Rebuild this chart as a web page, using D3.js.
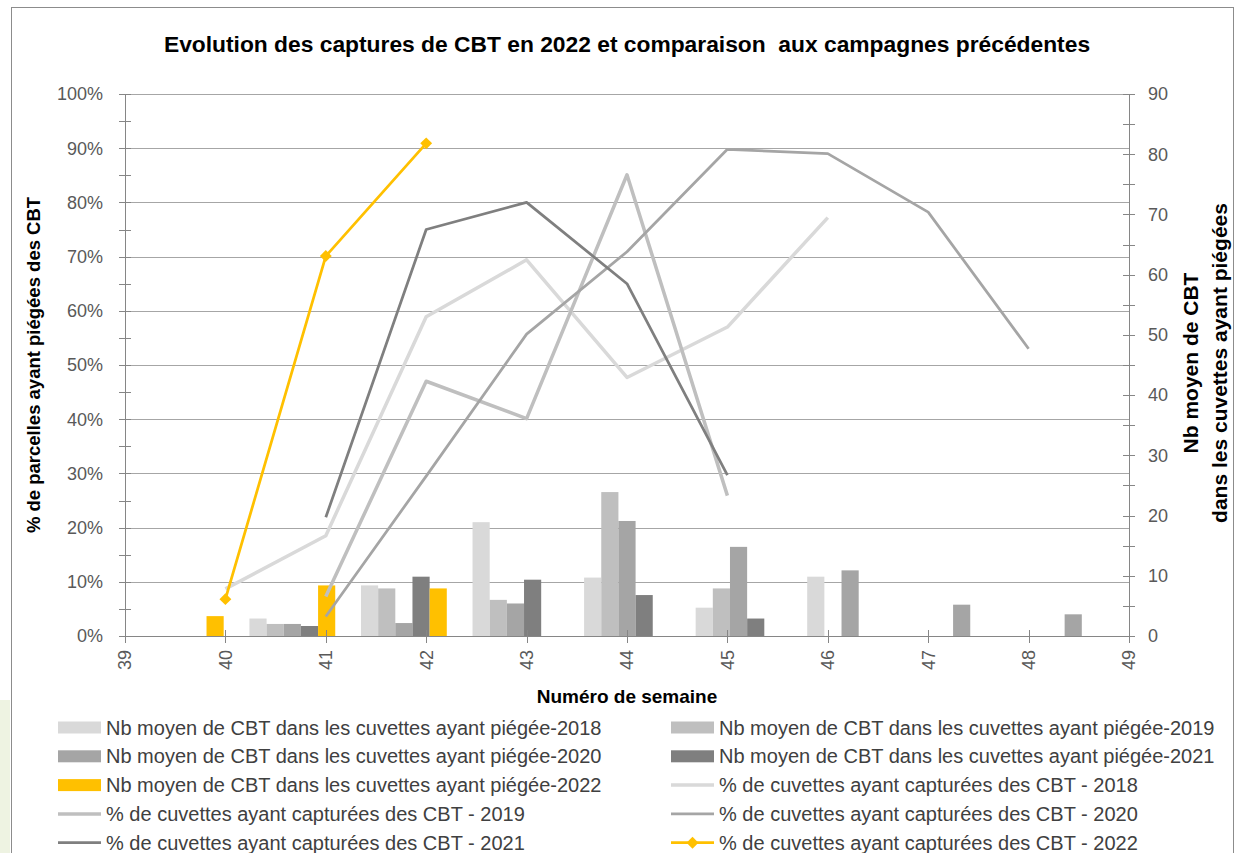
<!DOCTYPE html>
<html><head><meta charset="utf-8">
<script src="https://cdn.jsdelivr.net/npm/d3@7"></script>
<style>
html,body{margin:0;padding:0;background:#fff;}
svg{display:block;font-family:"Liberation Sans",Arial,sans-serif;}
</style></head>
<body><svg id="c" width="1241" height="853"></svg>
<script>
// ---------- data ----------
const years = ["2018","2019","2020","2021","2022"];
const barWeeks = [40,41,42,43,44,45,46,47,48];
const bar2018 = [0, 2.9, 8.4, 18.9, 9.7, 4.7, 9.85, 0, 0];
const bar2019 = [0, 2.0, 7.9, 6.0, 23.9, 7.9, 0, 0, 0];
const bar2020 = [0, 2.0, 2.15, 5.4, 19.1, 14.8, 10.9, 5.2, 3.6];
const bar2021 = [0, 1.66, 9.85, 9.35, 6.8, 2.9, 0, 0, 0];
const bar2022 = [3.3, 8.4, 7.9, 0, 0, 0, 0, 0, 0];

const weeks2018 = [40,41,42,43,44,45,46];
const pct2018 = [0.087,0.185,0.589,0.694,0.477,0.57,0.772];
const weeks2019 = [41,42,43,44,45];
const pct2019 = [0.073,0.47,0.401,0.851,0.259];
const weeks2020 = [41,42,43,44,45,46,47,48];
const pct2020 = [0.036,0.295,0.557,0.709,0.898,0.89,0.782,0.53];
const weeks2021 = [41,42,43,44,45];
const pct2021 = [0.219,0.75,0.80,0.65,0.297];
const weeks2022 = [40,41,42];
const pct2022 = [0.068,0.701,0.909];

const xTicks = [39,40,41,42,43,44,45,46,47,48,49];
const leftTicks = [0,0.1,0.2,0.3,0.4,0.5,0.6,0.7,0.8,0.9,1.0];
const rightTicks = [0,10,20,30,40,50,60,70,80,90];

const title = "Evolution des captures de CBT en 2022 et comparaison\u00a0 aux campagnes précédentes";
const xTitle = "Numéro de semaine";
const yLeftTitle = "% de parcelles ayant piégées des CBT";
const yRightTitle = ["Nb moyen de CBT", "dans les cuvettes ayant piégées"];
const barLabel = y => "Nb moyen de CBT dans les cuvettes ayant piégée-" + y;
const lineLabel = y => "% de cuvettes ayant capturées des CBT - " + y;

const colors = {"2018":"#d9d9d9","2019":"#bfbfbf","2020":"#a5a5a5","2021":"#7f7f7f","2022":"#ffc000"};
const lineWidths = {"2018":3.5,"2019":3.5,"2020":2.75,"2021":2.75,"2022":2.75};

const barSeries = {"2018":bar2018,"2019":bar2019,"2020":bar2020,"2021":bar2021,"2022":bar2022};
const lineSeries = {
  "2018":[weeks2018,pct2018],"2019":[weeks2019,pct2019],"2020":[weeks2020,pct2020],
  "2021":[weeks2021,pct2021],"2022":[weeks2022,pct2022]};

// ---------- layout ----------
const L=125, R=1129, T=94, B=636;
const svg = d3.select("#c");

// outer border & background tint
svg.append("rect").attr("x",0).attr("y",700).attr("width",10).attr("height",153).attr("fill","#eef3e2");
svg.append("rect").attr("x",11.5).attr("y",7.5).attr("width",1222).attr("height",900)
  .attr("fill","#fff").attr("stroke","#8c8c8c").attr("stroke-width",1);

const x = d3.scaleLinear().domain([39,49]).range([L,R]);
const yL = d3.scaleLinear().domain([0,1]).range([B,T]);
const yR = d3.scaleLinear().domain([0,90]).range([B,T]);
const p = 1.5/6.5;
const xb = d3.scaleBand().domain(barWeeks).range([L,R]).paddingInner(p).paddingOuter(p/2);
const xs = d3.scaleBand().domain(years).range([0,xb.bandwidth()]);

// gridlines
svg.append("g").selectAll("line").data(leftTicks.filter(d=>d>0)).join("line")
  .attr("x1",L).attr("x2",R).attr("y1",d=>Math.round(yL(d))+0.5).attr("y2",d=>Math.round(yL(d))+0.5)
  .attr("stroke","#a6a6a6").attr("stroke-width",1);

// bars
years.forEach(yr=>{
  svg.append("g").selectAll("rect").data(barWeeks.map((w,i)=>({w,v:barSeries[yr][i]})).filter(d=>d.v>0))
    .join("rect")
    .attr("x",d=>xb(d.w)+xs(yr)).attr("width",xs.bandwidth())
    .attr("y",d=>yR(d.v)).attr("height",d=>yR(0)-yR(d.v))
    .attr("fill",colors[yr]);
});

// axes lines and ticks
const axisColor = "#868686";
const ax = svg.append("g").attr("stroke",axisColor).attr("stroke-width",1);
ax.append("line").attr("x1",L+0.5).attr("x2",L+0.5).attr("y1",T).attr("y2",B);
ax.append("line").attr("x1",R+0.5).attr("x2",R+0.5).attr("y1",T).attr("y2",B);
ax.append("line").attr("x1",L).attr("x2",R).attr("y1",B+0.5).attr("y2",B+0.5);
ax.selectAll(".lt").data(d3.range(0,1.0001,0.05)).join("line")
  .attr("x1",L-6).attr("x2",L+6).attr("y1",d=>Math.round(yL(d))+0.5).attr("y2",d=>Math.round(yL(d))+0.5);
ax.selectAll(".rt").data(d3.range(0,90.001,5)).join("line").attr("class","rt")
  .attr("x1",R-6).attr("x2",R+6).attr("y1",d=>Math.round(yR(d))+0.5).attr("y2",d=>Math.round(yR(d))+0.5);
ax.selectAll(".xt").data(xTicks).join("line").attr("class","xt")
  .attr("x1",d=>Math.round(x(d))+0.5).attr("x2",d=>Math.round(x(d))+0.5).attr("y1",B-6).attr("y2",B+7);

// tick labels
const tickFill="#595959", tickSize=18;
svg.append("g").selectAll("text").data(leftTicks).join("text")
  .attr("x",L-22).attr("y",d=>yL(d)).attr("dy","0.35em").attr("text-anchor","end")
  .attr("font-size",tickSize).attr("fill",tickFill).text(d3.format(".0%"));
svg.append("g").selectAll("text").data(rightTicks).join("text")
  .attr("x",R+19).attr("y",d=>yR(d)).attr("dy","0.35em").attr("text-anchor","start")
  .attr("font-size",tickSize).attr("fill",tickFill).text(d=>d);
svg.append("g").selectAll("text").data(xTicks).join("text")
  .attr("transform",d=>`translate(${x(d)},${B+14}) rotate(-90)`)
  .attr("dy","0.35em").attr("text-anchor","end")
  .attr("font-size",tickSize).attr("fill",tickFill).text(d=>d);

// lines
const lineGen = d3.line().x(d=>x(d[0])).y(d=>yL(d[1]));
years.forEach(yr=>{
  const [ws,vs] = lineSeries[yr];
  svg.append("path").datum(ws.map((w,i)=>[w,vs[i]]))
    .attr("d",lineGen).attr("fill","none").attr("stroke",colors[yr])
    .attr("stroke-width",lineWidths[yr]).attr("stroke-linejoin","round");
});
// markers for 2022
const diamond = d3.symbol().type(d3.symbolDiamond2).size(90);
svg.append("g").selectAll("path").data(weeks2022.map((w,i)=>[w,pct2022[i]])).join("path")
  .attr("transform",d=>`translate(${x(d[0])},${yL(d[1])})`)
  .attr("d",diamond).attr("fill",colors["2022"]);

// titles
svg.append("text").attr("x",627).attr("y",52).attr("text-anchor","middle")
  .attr("font-size",22.8).attr("font-weight","bold").attr("fill","#000").text(title);
svg.append("text").attr("x",627).attr("y",703).attr("text-anchor","middle")
  .attr("font-size",19).attr("font-weight","bold").attr("fill","#000").text(xTitle);
svg.append("text").attr("transform","translate(40,365) rotate(-90)").attr("text-anchor","middle")
  .attr("font-size",18.5).attr("font-weight","bold").attr("fill","#000").text(yLeftTitle);
yRightTitle.forEach((t,i)=>{
  svg.append("text").attr("transform",`translate(${1198+i*29},363) rotate(-90)`).attr("text-anchor","middle")
    .attr("font-size",21).attr("font-weight","bold").attr("fill","#000").text(t);
});

// legend
const legendItems = [];
years.forEach(y=>legendItems.push({type:"bar",y}));
years.forEach(y=>legendItems.push({type:"line",y}));
const lg = svg.append("g");
legendItems.forEach((it,i)=>{
  const col = i%2, row = Math.floor(i/2);
  const sx = col===0 ? 58 : 671, ty = 727.5 + row*28.8;
  const g = lg.append("g").attr("transform",`translate(${sx},${ty})`);
  if(it.type==="bar"){
    g.append("rect").attr("x",0).attr("y",-6).attr("width",43).attr("height",12).attr("fill",colors[it.y]);
  } else {
    g.append("line").attr("x1",0).attr("x2",43).attr("y1",0).attr("y2",0)
      .attr("stroke",colors[it.y]).attr("stroke-width",lineWidths[it.y]);
    if(it.y==="2022") g.append("path").attr("transform","translate(21.5,0)").attr("d",diamond).attr("fill",colors[it.y]);
  }
  g.append("text").attr("x",48).attr("y",0).attr("dy","0.35em").attr("font-size",20)
    .attr("fill","#404040").text(it.type==="bar"?barLabel(it.y):lineLabel(it.y));
});
</script></body></html>
